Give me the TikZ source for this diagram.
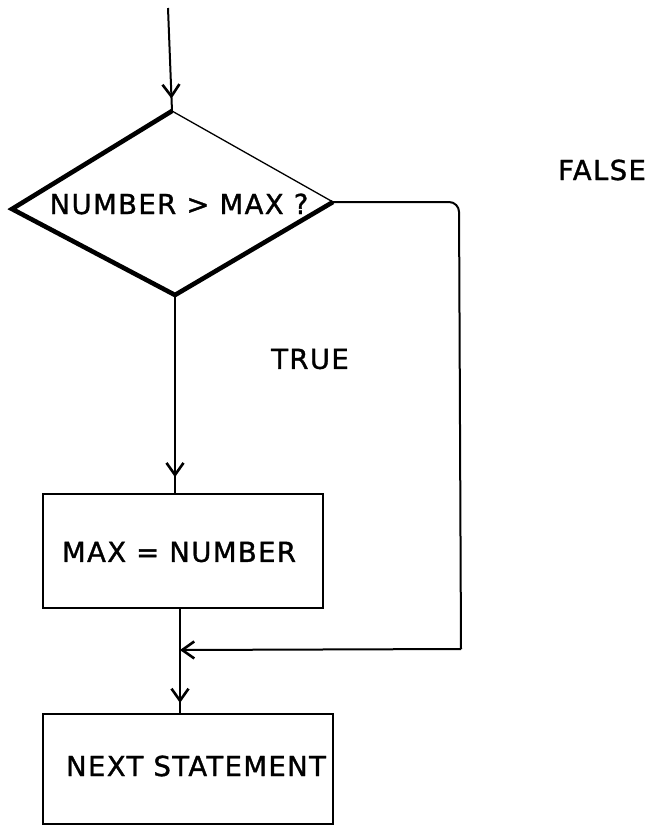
\documentclass[tikz,border=0pt]{standalone}
\usepackage{fontspec}
\setmainfont{DejaVu Sans}[LetterSpace=5,FakeBold=1.2]
\usetikzlibrary{arrows.meta,decorations.markings}
\begin{document}
\begin{tikzpicture}[x=1pt,y=-1pt,
  line width=2pt,
  lbl/.style={font=\fontsize{27.5}{32}\selectfont, inner sep=0pt, anchor=center},
  barb/.style={postaction={decorate},
    decoration={markings,
      mark=at position #1 with {\arrow{Straight Barb[length=12pt,width=17pt,line width=2.6pt]}}}},
  flow/.style={line width=2pt}
]
\useasboundingbox (0,0) rectangle (654,825);

% decision diamond
\coordinate (dtop) at (172,111);
\coordinate (dleft) at (12,209);
\coordinate (dright) at (333,202);
\coordinate (dbot) at (175,295);
\draw[line width=4.6pt, line join=miter] (dright) -- (dbot) -- (dleft) -- (dtop);
\draw[line width=1.3pt] (dtop) -- (dright);
\node[lbl] (cond) at (179,204) {NUMBER > MAX ?};

% process boxes
\node[draw, line width=2pt, minimum width=280pt, minimum height=114pt, inner sep=0pt] (setmax) at (183,551) {};
\node[lbl] (setmaxtxt) at (179,552) {MAX = NUMBER};
\node[draw, line width=2pt, minimum width=290pt, minimum height=110pt, inner sep=0pt] (next) at (188,769) {};
\node[lbl] (nexttxt) at (196,766) {NEXT STATEMENT};

% branch labels
\node[lbl] (true) at (310,359) {TRUE};
\node[lbl] (false) at (602,170) {FALSE};

% connectors
\coordinate (entry) at (168,8);
\coordinate (merge) at (180,650);
\coordinate (corner) at (461,649);
\draw[flow, barb=0.88] (entry) -- (dtop);
\draw[flow, barb=0.92] (dbot) -- (dbot |- setmax.north);
\draw[flow] (merge |- setmax.south) -- (merge);
\draw[flow, barb=0.84] (merge) -- (merge |- next.north);
\draw[flow, rounded corners=10pt] (dright) -- (459,202) -- (corner);
\draw[flow, barb=1] (corner) -- (merge);
\end{tikzpicture}
\end{document}
